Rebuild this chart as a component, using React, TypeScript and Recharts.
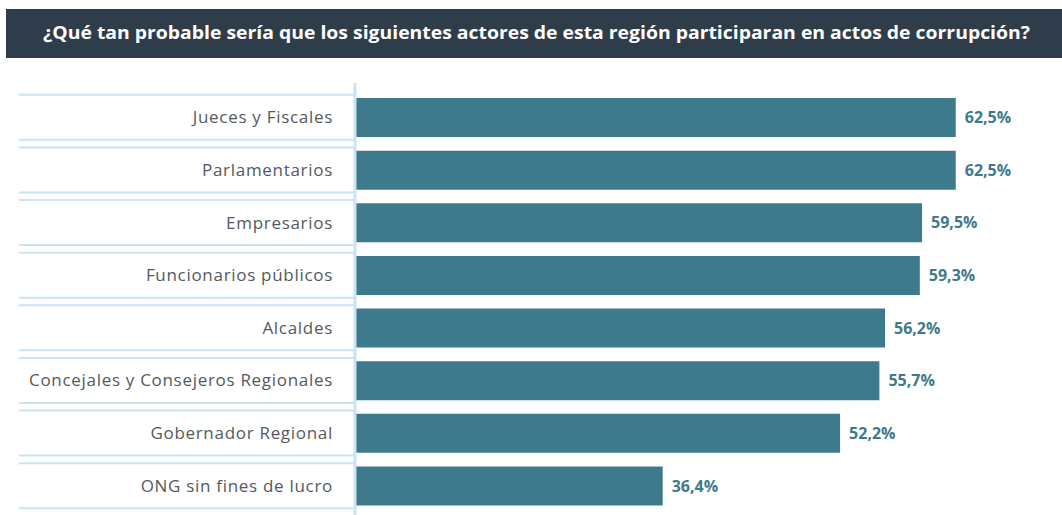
import React from 'react'
import { BarChart, Bar, XAxis, YAxis, LabelList } from 'recharts'

const title = '¿Qué tan probable sería que los siguientes actores de esta región participaran en actos de corrupción?'

const actors = [
  'Jueces y Fiscales',
  'Parlamentarios',
  'Empresarios',
  'Funcionarios públicos',
  'Alcaldes',
  'Concejales y Consejeros Regionales',
  'Gobernador Regional',
  'ONG sin fines de lucro',
]

const shares = [62.5, 62.5, 59.5, 59.3, 56.2, 55.7, 52.2, 36.4]

const data = actors.map((name, i) => ({ name, value: shares[i] }))

const barColor = '#3d7a8b'
const lineColor = '#c8e4f6'
const font = '"Open Sans", "Noto Sans", sans-serif'

function ActorTick(props: any) {
  const { y, payload } = props
  return (
    <g>
      <line x1={19} x2={354} y1={y - 22.5} y2={y - 22.5} stroke={lineColor} strokeWidth={2} />
      <line x1={19} x2={354} y1={y + 22.5} y2={y + 22.5} stroke={lineColor} strokeWidth={2} />
      <text
        x={333}
        y={y}
        dy={6}
        textAnchor="end"
        fill="#55595e"
        fontSize={17}
        letterSpacing={0.7}
        fontFamily={font}
      >
        {payload.value}
      </text>
    </g>
  )
}

export default function App() {
  return (
    <div style={{ position: 'absolute', left: 0, top: 0, width: 1062, height: 515, background: '#fff' }}>
      <svg width={1062} height={60} style={{ position: 'absolute', left: 0, top: 0 }}>
        <rect x={6} y={9} width={1056} height={49} fill="#2f3c4a" />
        <text
          x={43}
          y={39}
          fill="#ffffff"
          fontSize={18}
          fontWeight={700}
          fontFamily={font}
          textLength={987}
          lengthAdjust="spacingAndGlyphs"
        >
          {title}
        </text>
      </svg>
      <div style={{ position: 'absolute', left: 0, top: 0 }}>
        <BarChart
          width={1062}
          height={515}
          data={data}
          layout="vertical"
          margin={{ top: 83, right: 40, left: 0, bottom: 0 }}
          barSize={39}
        >
          <XAxis type="number" domain={[9, 68.4]} hide />
          <YAxis
            type="category"
            dataKey="name"
            width={355}
            padding={{ top: 8, bottom: 3 }}
            axisLine={{ stroke: lineColor, strokeWidth: 3 }}
            tickLine={false}
            tick={<ActorTick />}
            interval={0}
          />
          <Bar dataKey="value" fill={barColor} isAnimationActive={false}>
            <LabelList
              dataKey="value"
              position="right"
              offset={9}
              fill={barColor}
              fontSize={16}
              fontWeight={700}
              fontFamily={font}
              formatter={(v: any) => `${Number(v).toFixed(1).replace('.', ',')}%`}
            />
          </Bar>
        </BarChart>
      </div>
    </div>
  )
}
